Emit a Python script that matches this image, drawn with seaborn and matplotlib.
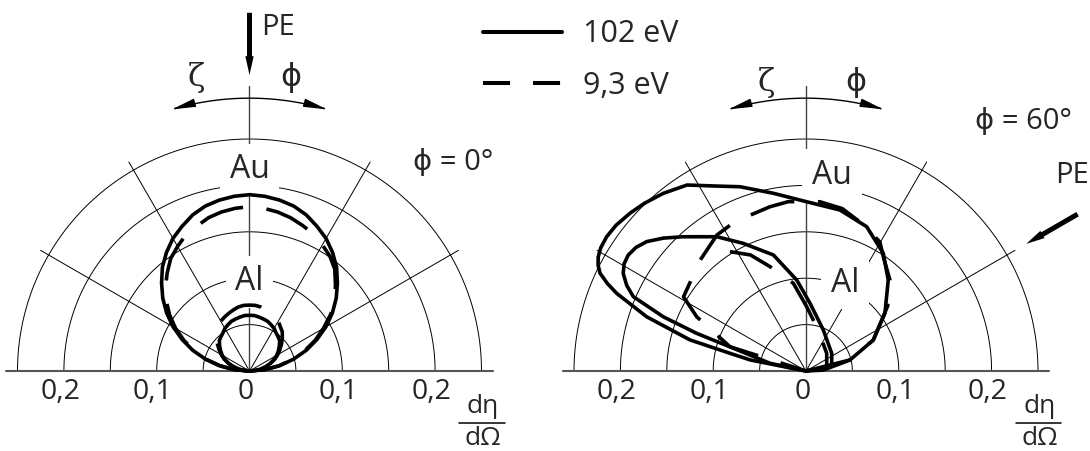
import numpy as np
import pandas as pd
import matplotlib
matplotlib.use("Agg")
import matplotlib.pyplot as plt
from matplotlib.patches import FancyArrowPatch
from matplotlib.path import Path
from matplotlib.lines import Line2D
import seaborn as sns

# ==========================================
# DATA
# angle from the surface normal in degrees (+ towards phi, - towards zeta)
# r = d eta / d Omega
# ==========================================

theta_phi0 = [-90, -85, -80, -75, -70, -65, -60, -55, -50, -45, -40, -35,
              -30, -25, -20, -15, -10, -5, 0, 5, 10, 15, 20, 25, 30, 35,
              40, 45, 50, 55, 60, 65, 70, 75, 80, 85, 90]

au_102_phi0 = [0, .017, .033, .049, .065, .080, .095, .109, .122, .134, .146,
               .156, .165, .172, .179, .184, .187, .189, .190, .189, .187,
               .184, .179, .172, .165, .156, .146, .134, .122, .109, .095,
               .080, .065, .049, .033, .017, 0]
au_93_phi0 = [0, .016, .032, .048, .063, .078, .092, .105, .117, .128, .138,
              .148, .155, .162, .166, .171, .174, .176, .177, .176, .174,
              .171, .167, .163, .157, .151, .143, .131, .120, .107, .092,
              .078, .063, .048, .032, .016, 0]
al_102_phi0 = [0, .006, .012, .018, .024, .029, .034, .038, .042, .046, .048,
               .050, .053, .055, .057, .058, .059, .060, .060, .060, .059,
               .058, .057, .055, .053, .050, .048, .046, .042, .038, .034,
               .029, .024, .018, .012, .006, 0]
al_93_phi0 = [0, .006, .012, .018, .024, .030, .035, .040, .045, .050, .055,
              .058, .062, .064, .066, .068, .070, .071, .071, .071, .070,
              .068, .066, .064, .062, .058, .055, .050, .045, .040, .035,
              .030, .024, .018, .012, .006, 0]

theta_au_102_phi60 = [90, 86.9, 75.9, 65.3, 53.8, 42.1, 33.3, 22.8, 11.9, 0.2,
                      -10.4, -19.7, -26.6, -32.6, -38.8, -44.0, -48.1, -52.5,
                      -56.0, -59.0, -61.2, -63.0, -64.6, -66.2, -67.7, -71.2,
                      -75.0, -76.9, -78.8, -90]
au_102_phi60 = [0, .0187, .0489, .0798, .1054, .1322, .1517, .1687, .1773, .1824,
                .1947, .2109, .2230, .2379, .2456, .2510, .2547, .2580,
                .2590, .2580, .2555, .2515, .2457, .2340, .2205, .1814,
                .1294, .0841, .0612, 0]

theta_al_102_phi60 = [90, 80.9, 76.8, 55.6, 22.9, 3.4, -5.8, -15.7, -26.2, -33.6,
                      -42.4, -47.0, -50.9, -54.0, -56.9, -59.5, -61.9, -64.5,
                      -66.7, -69.2, -71.0, -72.6, -77.9, -90]
al_102_phi60 = [0, .0189, .0285, .0336, .0480, .0731, .0985, .1299, .1533, .1737,
                .1959, .2100, .2211, .2265, .2287, .2275, .2233, .2140,
                .2026, .1645, .1246, .0820, .0397, 0]

theta_au_93_phi60 = [90, 75.9, 65.3, 51.5, 42.7, 34.1, 29.8, 20.2, 12.6, 4.7,
                     -5.9, -12.4, -25.4, -33.2, -43.6, -58.8, -63.6, -72.3, -90]
au_93_phi60 = [0, .0489, .0798, .1124, .1334, .1486, .1602, .1705, .1793, .1830,
               .1835, .1812, .1782, .1752, .1652, .1543, .1315, .0860, 0]

theta_al_93_phi60 = [90, 78.3, 49.6, 16.6, 0.6, -8.2, -19.0, -25.6, -32.5]
al_93_phi60 = [0, .0228, .0293, .0461, .0693, .0955, .1189, .1387, .1525]

energies = ["102 eV", "9,3 eV"]
grid_r = [0.05, 0.10, 0.15, 0.20, 0.25]
grid_angles = [-60, -30, 30, 60]
tick_values = [-0.2, -0.1, 0.0, 0.1, 0.2]
tick_labels = ["0,2", "0,1", "0", "0,1", "0,2"]
phi_labels = ["ϕ = 0°", "ϕ = 60°"]
pe_angle = [0, 60]

# ==========================================
# BUILD TABLE
# ==========================================

def to_xy(theta, r):
    t = np.radians(theta)
    r = np.asarray(r)
    return r * np.sin(t), r * np.cos(t)


curves = [
    (0, "Au102", energies[0], theta_phi0, au_102_phi0),
    (0, "Au93", energies[1], theta_phi0, au_93_phi0),
    (0, "Al102", energies[0], theta_phi0, al_102_phi0),
    (0, "Al93", energies[1], theta_phi0, al_93_phi0),
    (1, "Au102", energies[0], theta_au_102_phi60, au_102_phi60),
    (1, "Au93", energies[1], theta_au_93_phi60, au_93_phi60),
    (1, "Al102", energies[0], theta_al_102_phi60, al_102_phi60),
    (1, "Al93", energies[1], theta_al_93_phi60, al_93_phi60),
]

rows = []
for panel, name, energy, th, rr in curves:
    xs, ys = to_xy(th, rr)
    for i, (x, y) in enumerate(zip(xs, ys)):
        rows.append({"panel": panel, "curve": name, "energy": energy,
                     "x": x, "y": y, "order": i})
df = pd.DataFrame(rows)

# ==========================================
# FIGURE
# ==========================================

sns.set_style("white")
plt.rcParams["font.family"] = ["Open Sans", "DejaVu Sans"]
plt.rcParams["lines.scale_dashes"] = False

W, H = 1090, 451
SCALE = 928.0          # pixels per unit of dη/dΩ
ORIGIN_Y = 371
origins_x = [249.5, 806]

fig = plt.figure(figsize=(W / 100, H / 100), dpi=100)
axes = [fig.add_axes([0, 0, 0.5, 1]), fig.add_axes([0.5, 0, 0.5, 1])]

dash_curve = (33, 17)
style_dashes = {energies[0]: "", energies[1]: dash_curve}

label_pos = [
    {"Au": (0.0, 0.217), "Al": (0.0, 0.096)},
    {"Au": (0.028, 0.211), "Al": (0.042, 0.0945)},
]
zeta_pos = [(-0.057, 0.316), (-0.043, 0.311)]
phi_pos = [(0.044, 0.316), (0.054, 0.311)]
phi_text_pos = [(0.219, 0.225), (0.234, 0.2686)]
pe_tail_r = [0.386, 0.338]
pe_tip_r = [0.319, 0.274]
pe_text = [(0.013, 0.370, "left"), (0.2866, 0.2112, "center")]

for k, ax in enumerate(axes):
    ox = origins_x[k] - (0 if k == 0 else 545)

    # polar grid
    a = np.linspace(0, np.pi, 300)
    for r in grid_r:
        ax.plot(r * np.cos(a), r * np.sin(a), color="black", lw=0.7, zorder=1)
    for g in grid_angles:
        gx, gy = to_xy([g, g], [0, 0.26])
        ax.plot(gx, gy, color="black", lw=0.7, zorder=1)
    ax.plot([0, 0], [0, 0.307], color="#444444", lw=1.0, zorder=1)
    ax.plot([-0.262, 0.262], [0, 0], color="#555555", lw=1.5, zorder=1)

    # curves
    sub = df[df["panel"] == k].sort_values(["curve", "order"])
    sns.lineplot(data=sub, x="x", y="y", units="curve", style="energy",
                 style_order=energies, dashes=style_dashes, estimator=None,
                 sort=False, color="black", linewidth=2.6, legend=False,
                 ax=ax, zorder=3)
    ax.set_xlim(-ox / SCALE, (545 - ox) / SCALE)
    ax.set_ylim((ORIGIN_Y - H) / SCALE, ORIGIN_Y / SCALE)
    ax.set_axis_off()

    # metal labels with white box cutting the grid
    for name, (lx, ly) in label_pos[k].items():
        ax.text(lx, ly, name, fontsize=23, ha="center", va="center", zorder=2,
                bbox=dict(boxstyle="square,pad=0.3", fc="white", ec="none"))

    # tick labels
    for tv, tl in zip(tick_values, tick_labels):
        ax.text(tv - 0.004, -0.0223, tl, fontsize=20.5, ha="center", va="center")

    # d eta / d Omega
    ax.text(0.2516, -0.0515, "dη", fontsize=19, ha="center", va="bottom")
    ax.plot([0.2258, 0.2753], [-0.0557, -0.0557], color="black", lw=1.1)
    ax.text(0.2516, -0.0858, "dΩ", fontsize=19, ha="center", va="bottom")

    # zeta / phi direction arrow
    b = np.radians(np.linspace(-16.5, 16.5, 60))
    arc = np.column_stack([0.294 * np.sin(b), 0.294 * np.cos(b)])
    ax.add_patch(FancyArrowPatch(path=Path(arc),
                                 arrowstyle="<|-|>,head_length=1.4,head_width=0.25",
                                 mutation_scale=10, lw=1.0, color="black"))
    ax.text(*zeta_pos[k], "ζ", fontsize=23, family=["DejaVu Serif"],
            ha="center", va="center")
    ax.text(*phi_pos[k], "ϕ", fontsize=23, family=["DejaVu Sans"],
            ha="center", va="center")
    ax.text(*phi_text_pos[k], phi_labels[k], fontsize=21,
            ha="center", va="center")

    # primary electron arrow
    tx, ty = to_xy([pe_angle[k]] * 2, [pe_tail_r[k], pe_tip_r[k]])
    ax.add_patch(FancyArrowPatch((tx[0], ty[0]), (tx[1], ty[1]),
                                 arrowstyle="simple,head_length=1.35,head_width=0.6,tail_width=0.36",
                                 mutation_scale=10, lw=0, color="black",
                                 shrinkA=0, shrinkB=0))
    px, py, pha = pe_text[k]
    ax.text(px, py, "PE", fontsize=21, ha=pha, va="center")

# legend
handles = [Line2D([], [], color="black", lw=2.9),
           Line2D([], [], color="black", lw=2.9, dashes=(19.5, 16.5))]
fig.legend(handles, energies, loc="center left",
           bbox_to_anchor=(483 / W, 1 - 60 / H), frameon=False, fontsize=22,
           borderpad=0, borderaxespad=0, handlelength=2.58,
           handletextpad=0.68, labelspacing=0.7)

fig.savefig("out.png", dpi=100)
